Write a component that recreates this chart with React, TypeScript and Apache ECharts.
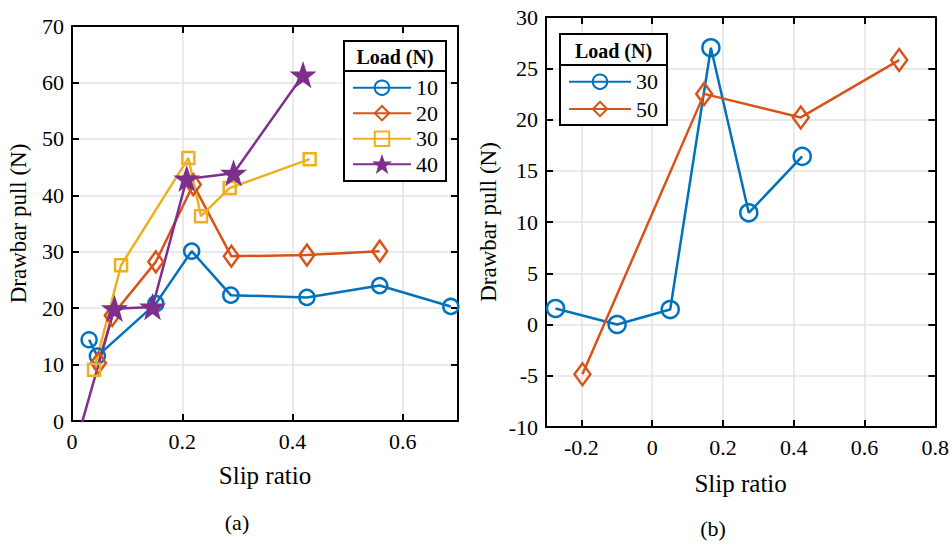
import React, { useEffect, useRef } from 'react';
import * as echarts from 'echarts';

// ---- Data: panel (a) ----
const loadsA = ['10', '20', '30', '40'];
const slipA10 = [0.031, 0.046, 0.152, 0.217, 0.288, 0.426, 0.558, 0.687];
const pullA10 = [14.4, 11.5, 20.8, 30.1, 22.3, 21.9, 24.0, 20.3];
const slipA20 = [0.048, 0.073, 0.152, 0.220, 0.289, 0.426, 0.558];
const pullA20 = [10.3, 18.7, 28.2, 41.9, 29.2, 29.4, 30.1];
const slipA30 = [0.040, 0.089, 0.211, 0.234, 0.286, 0.431];
const pullA30 = [9.1, 27.6, 46.6, 36.3, 41.3, 46.4];
const slipA40 = [0.016, 0.077, 0.146, 0.208, 0.293, 0.419];
const pullA40 = [-1.0, 19.9, 20.2, 42.9, 43.9, 61.3];

// ---- Data: panel (b) ----
const loadsB = ['30', '50'];
const slipB30 = [-0.273, -0.099, 0.051, 0.166, 0.273, 0.424];
const pullB30 = [1.56, 0.0, 1.46, 27.0, 10.9, 16.4];
const slipB50 = [-0.197, 0.147, 0.420, 0.698];
const pullB50 = [-4.85, 22.5, 20.2, 25.8];

// ---- Tick labels ----
const xTicksA = [0, 0.2, 0.4, 0.6];
const xTicksB = [-0.2, 0, 0.2, 0.4, 0.6, 0.8];

const xTitle = 'Slip ratio';
const yTitle = 'Drawbar pull (N)';
const legendTitle = 'Load (N)';
const captions = ['(a)', '(b)'];

const COLORS = ['#0072BD', '#D95319', '#EDB120', '#7E2F8E'];
const FONT = "'Liberation Serif', 'Times New Roman', serif";
const STAR = 'path://M0,-10 L2.35,-3.24 L9.51,-3.09 L3.8,1.24 L5.88,8.09 L0,4 L-5.88,8.09 L-3.8,1.24 L-9.51,-3.09 L-2.35,-3.24 Z';

const zip = (xs: number[], ys: number[]) => xs.map((x, i) => [x, ys[i]]);

function lineSeries(name: string, color: string, xs: number[], ys: number[], symbol: string, size: any, axis: number, fill = 'rgba(0,0,0,0)') {
  return {
    type: 'line',
    name,
    xAxisIndex: axis,
    yAxisIndex: axis,
    data: zip(xs, ys),
    symbol,
    symbolSize: size,
    showAllSymbol: true,
    clip: true,
    lineStyle: { color, width: 2.5 },
    itemStyle: { color: fill, borderColor: color, borderWidth: 2.5 },
    emphasis: { disabled: true },
    z: 5,
  };
}

function xAxisCfg(grid: number, pos: 'bottom' | 'top', min: number, max: number, ticks: number[], main: boolean, gap: number) {
  return {
    type: 'value',
    gridIndex: grid,
    position: pos,
    min,
    max,
    name: main ? xTitle : '',
    nameLocation: 'middle',
    nameGap: gap,
    nameTextStyle: { fontFamily: FONT, fontSize: 25, color: '#000' },
    axisLine: { show: true, onZero: false, lineStyle: { color: '#000', width: 2 } },
    axisTick: { show: true, inside: true, length: 7, customValues: ticks, lineStyle: { color: '#000', width: 2 } },
    axisLabel: { show: main, customValues: ticks, margin: 9, fontFamily: FONT, fontSize: 22, color: '#000' },
    splitLine: { show: main, lineStyle: { color: '#e3e3e3', width: 1.5 } },
  };
}

function yAxisCfg(grid: number, pos: 'left' | 'right', min: number, max: number, interval: number, main: boolean, gap: number) {
  return {
    type: 'value',
    gridIndex: grid,
    position: pos,
    min,
    max,
    interval,
    name: main ? yTitle : '',
    nameLocation: 'middle',
    nameGap: gap,
    nameTextStyle: { fontFamily: FONT, fontSize: 23, color: '#000' },
    axisLine: { show: true, onZero: false, lineStyle: { color: '#000', width: 2 } },
    axisTick: { show: true, inside: true, length: 7, lineStyle: { color: '#000', width: 2 } },
    axisLabel: { show: main, margin: 8, fontFamily: FONT, fontSize: 22, color: '#000' },
    splitLine: { show: main, lineStyle: { color: '#e3e3e3', width: 1.5 } },
  };
}

function legendBox(x: number, y: number, w: number, h: number, sepY: number) {
  return [
    { type: 'rect', z: 3, shape: { x, y, width: w, height: h }, style: { fill: '#fff', stroke: '#000', lineWidth: 2 } },
    { type: 'line', z: 3, shape: { x1: x, y1: sepY, x2: x + w, y2: sepY }, style: { stroke: '#000', lineWidth: 2 } },
    {
      type: 'text', z: 3, x: x + w / 2, y: (y + sepY) / 2 + 1,
      style: { text: legendTitle, font: `bold 20px ${FONT}`, fill: '#000', align: 'center', verticalAlign: 'middle' },
    },
  ];
}

export default function App() {
  const ref = useRef<HTMLDivElement>(null);
  useEffect(() => {
    if (!ref.current) return;
    const chart = echarts.init(ref.current, undefined, { renderer: 'svg' });
    const option: any = {
      animation: false,
      backgroundColor: '#fff',
      grid: [
        { left: 72, top: 26, width: 386, height: 395 },
        { left: 546, top: 17, width: 392, height: 410 },
      ],
      xAxis: [
        xAxisCfg(0, 'bottom', 0, 0.7, xTicksA, true, 42),
        xAxisCfg(1, 'bottom', -0.3, 0.8, xTicksB, true, 44),
        xAxisCfg(0, 'top', 0, 0.7, xTicksA, false, 0),
        xAxisCfg(1, 'top', -0.3, 0.8, xTicksB, false, 0),
      ],
      yAxis: [
        yAxisCfg(0, 'left', 0, 70, 10, true, 42),
        yAxisCfg(1, 'left', -10, 30, 5, true, 46),
        yAxisCfg(0, 'right', 0, 70, 10, false, 0),
        yAxisCfg(1, 'right', -10, 30, 5, false, 0),
      ],
      legend: [
        {
          data: loadsA,
          orient: 'vertical',
          left: 352,
          top: 76.7,
          padding: 0,
          itemWidth: 58,
          itemHeight: 18,
          itemGap: 3.5,
          selectedMode: false,
          textStyle: { fontFamily: FONT, fontSize: 22, color: '#000' },
        },
        {
          data: loadsB.map((n) => 'R' + n),
          formatter: (n: string) => n.slice(1),
          orient: 'vertical',
          left: 568,
          top: 70.7,
          padding: 0,
          itemWidth: 62,
          itemHeight: 18,
          itemGap: 5.3,
          selectedMode: false,
          textStyle: { fontFamily: FONT, fontSize: 22, color: '#000' },
        },
      ],
      graphic: [
        ...legendBox(344, 41, 102, 140, 71),
        ...legendBox(560, 34, 107, 91, 65),
        { type: 'text', x: 237, y: 522, style: { text: captions[0], font: `22px ${FONT}`, fill: '#000', align: 'center', verticalAlign: 'middle' } },
        { type: 'text', x: 713, y: 528, style: { text: captions[1], font: `22px ${FONT}`, fill: '#000', align: 'center', verticalAlign: 'middle' } },
      ],
      series: [
        lineSeries(loadsA[0], COLORS[0], slipA10, pullA10, 'circle', 15, 0),
        lineSeries(loadsA[1], COLORS[1], slipA20, pullA20, 'diamond', [15, 21], 0),
        lineSeries(loadsA[2], COLORS[2], slipA30, pullA30, 'rect', 12, 0),
        lineSeries(loadsA[3], COLORS[3], slipA40, pullA40, STAR, 20, 0, COLORS[3]),
        lineSeries('R' + loadsB[0], COLORS[0], slipB30, pullB30, 'circle', 17, 1),
        lineSeries('R' + loadsB[1], COLORS[1], slipB50, pullB50, 'diamond', [16, 22], 1),
      ],
    };
    chart.setOption(option);
    return () => chart.dispose();
  }, []);
  return <div ref={ref} style={{ position: 'fixed', left: 0, top: 0, width: 952, height: 544 }} />;
}
